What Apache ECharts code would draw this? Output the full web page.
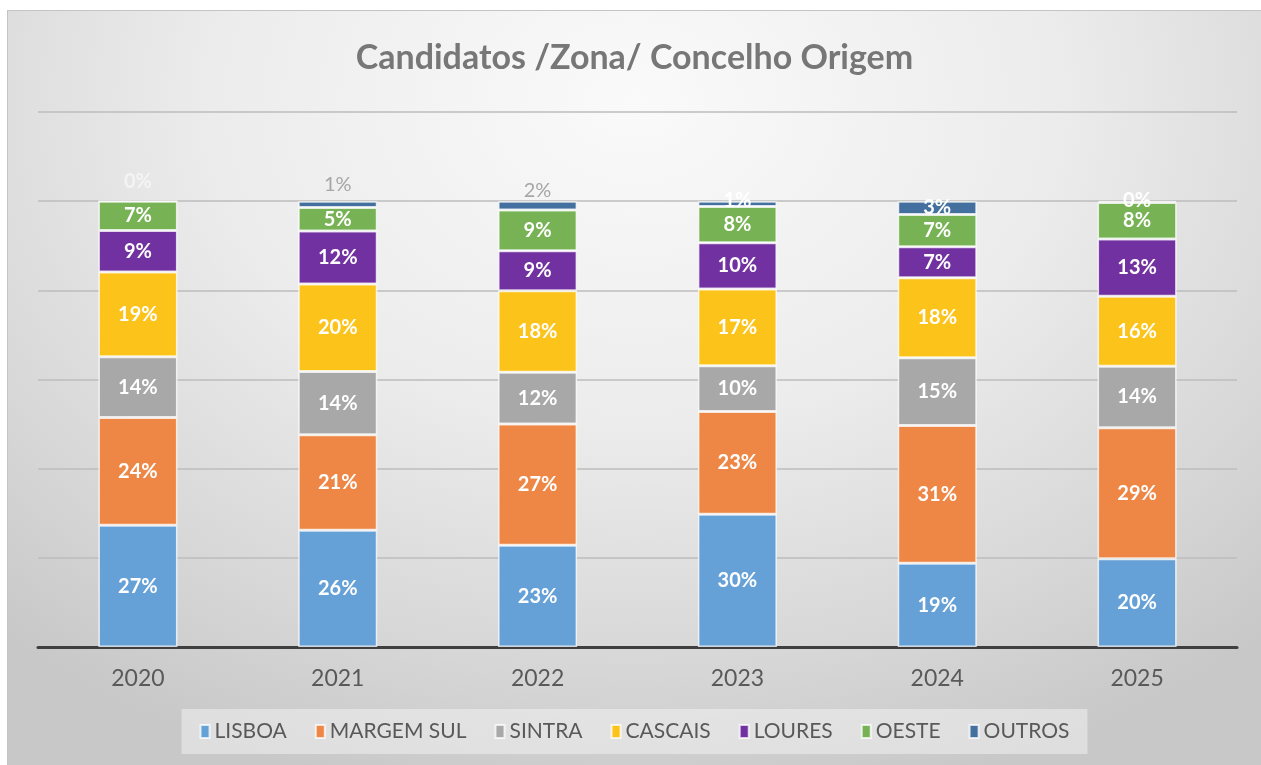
<!DOCTYPE html>
<html>
<head>
<meta charset="utf-8">
<script src="https://cdn.jsdelivr.net/npm/echarts@6/dist/echarts.min.js"></script>
<style>
html,body{margin:0;padding:0;background:#fff;}
#main{position:absolute;left:7px;top:10px;width:1254px;height:755px;
  border-top:1px solid #c4c4c4;border-left:1px solid #c4c4c4;box-sizing:border-box;
  background:radial-gradient(ellipse 75% 95% at 50% 12%, #fafafa 0%, #ececec 45%, #d6d6d6 80%, #c8c8c8 100%);}
</style>
</head>
<body>
<div id="main"></div>
<script>
var anos = ['2020','2021','2022','2023','2024','2025'];
var lisboa     = [27.3, 26.2, 22.8, 29.8, 18.8, 19.8];
var margemSul  = [24.2, 21.4, 27.2, 23.0, 30.9, 29.4];
var sintra     = [13.6, 14.2, 11.6, 10.3, 15.2, 13.8];
var cascais    = [19.0, 19.6, 18.3, 17.2, 17.9, 15.7];
var loures     = [9.3, 11.9, 9.0, 10.4, 7.0, 12.8];
var oeste      = [6.6, 5.3, 9.1, 8.1, 7.2, 8.2];
var outros     = [0.0, 1.4, 2.0, 1.2, 3.0, 0.3];

var nomes = ['LISBOA','MARGEM SUL','SINTRA','CASCAIS','LOURES','OESTE','OUTROS'];
var cores = ['#65a0d6','#ee8745','#a8a8a8','#fcc31a','#7131a0','#77b254','#43709e'];
var valores = [lisboa, margemSul, sintra, cascais, loures, oeste, outros];

// rótulos do "OUTROS" estão deslocados à mão no original
var outrosDy = [-20, -20, -15, -3, 0, -1];
var outrosCor = ['#f4f4f4', '#a6a6a6', '#a6a6a6', '#ffffff', '#ffffff', '#ffffff'];

var fonte = 'Lato, "Noto Sans", sans-serif';
var myChart = echarts.init(document.getElementById('main'));

var series = [];
for (var s = 0; s < nomes.length; s++) {
    var dados = [];
    for (var i = 0; i < anos.length; i++) {
        if (s == 6) {
            dados.push({value: valores[s][i], label: {offset: [0, outrosDy[i]], color: outrosCor[i], fontWeight: (i == 1 || i == 2) ? 'normal' : 'bold'}});
        } else {
            dados.push(valores[s][i]);
        }
    }
    series.push({
        name: nomes[s],
        type: 'bar',
        stack: 'total',
        barWidth: 79,
        data: dados,
        itemStyle: {color: cores[s], borderColor: 'rgba(255,255,255,0.75)', borderWidth: 1.5},
        label: {
            show: true,
            position: 'inside',
            color: '#fff',
            fontFamily: fonte,
            fontWeight: 'bold',
            fontSize: 20,
            formatter: function (p) { return Math.round(p.value) + '%'; }
        }
    });
}

myChart.setOption({
    animation: false,
    title: {
        text: 'Candidatos /Zona/ Concelho Origem',
        left: 'center',
        top: 25,
        textStyle: {fontFamily: fonte, fontWeight: 'bold', fontSize: 34, color: '#777'}
    },
    legend: {
        data: nomes,
        bottom: 11,
        left: 'center',
        backgroundColor: 'rgba(240,240,240,0.55)',
        padding: [12, 18, 12, 18],
        itemWidth: 9,
        itemHeight: 13,
        itemGap: 28,
        icon: 'rect',
        textStyle: {fontFamily: fonte, fontSize: 21, color: '#595959'}
    },
    grid: {left: 30, right: 24, top: 101, bottom: 118},
    xAxis: {
        type: 'category',
        data: anos,
        axisTick: {show: false},
        axisLine: {lineStyle: {color: '#3f3f3f', width: 3}},
        axisLabel: {fontFamily: fonte, fontSize: 23, color: '#595959', margin: 20}
    },
    yAxis: {
        type: 'value',
        min: 0,
        max: 120,
        interval: 20,
        axisLabel: {show: false},
        axisLine: {show: false},
        axisTick: {show: false},
        splitLine: {lineStyle: {color: '#bcbcbc', width: 1.5}}
    },
    series: series
});
</script>
</body>
</html>
